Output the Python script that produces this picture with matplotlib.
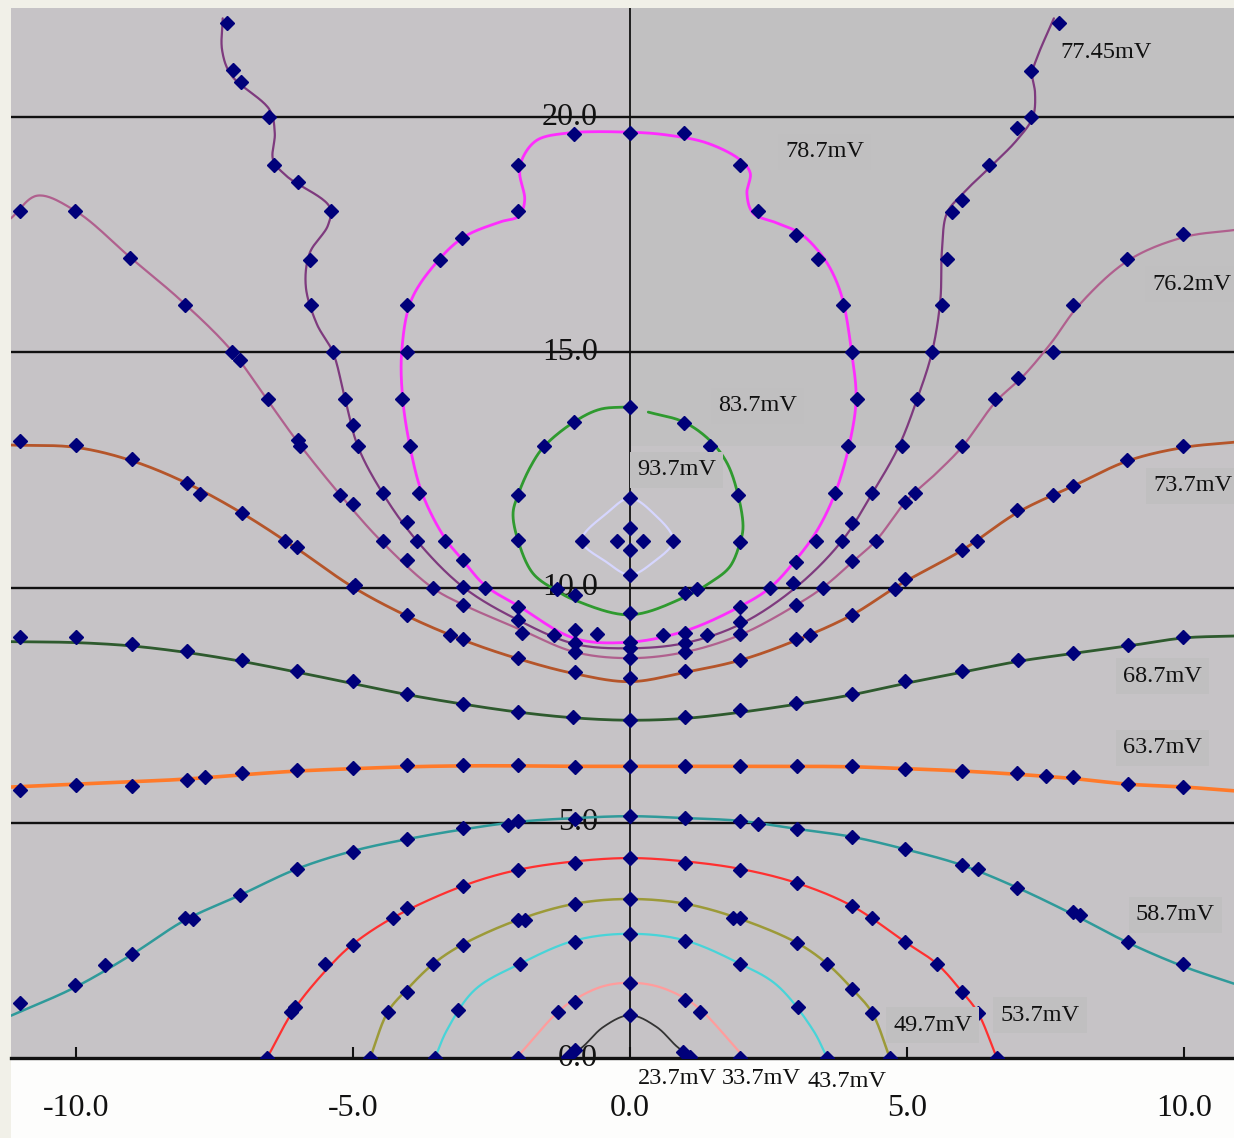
import numpy as np
import matplotlib
matplotlib.use("Agg")
import matplotlib.pyplot as plt
from matplotlib.patches import Rectangle

plt.rcParams["font.family"] = ["Liberation Serif", "DejaVu Serif"]

# ---------------- data (x, y) ----------------
x_ticks = [-10.0, -5.0, 0.0, 5.0, 10.0]
x_tick_labels = ["-10.0", "-5.0", "0.0", "5.0", "10.0"]
y_grid = [0.0, 5.0, 10.0, 15.0, 20.0]
y_grid_labels = ["0.0", "5.0", "10.0", "15.0", "20.0"]

levels = ["23.7mV", "33.7mV", "43.7mV", "49.7mV", "53.7mV", "58.7mV", "63.7mV",
          "68.7mV", "73.7mV", "76.2mV", "77.45mV", "78.7mV", "83.7mV", "93.7mV"]

line_237 = [(-1.12, 0.0), (-0.85, 0.24), (-0.48, 0.66), (0.0, 0.91), (0.48, 0.66), (0.85, 0.24), (1.12, 0.0)]
pts_237 = [(0.0, 0.91), (0.95, 0.12), (1.08, 0.03), (-1.0, 0.18), (-1.12, 0.03)]

line_337 = [(-2.05, 0.0), (-1.3, 0.98), (-0.99, 1.25), (-0.5, 1.52), (0.0, 1.6), (0.5, 1.52), (0.99, 1.27),
            (1.3, 1.0), (2.07, 0.0)]
pts_337 = [(0.0, 1.6), (0.99, 1.23), (1.26, 0.98), (1.99, 0.0), (-0.99, 1.19), (-1.3, 0.98), (-2.02, 0.0)]

line_437 = [(-3.52, 0.0), (-3.3, 0.6), (-2.8, 1.45), (-1.99, 2.0), (-0.99, 2.5), (0.0, 2.64), (0.99, 2.5),
            (1.99, 2.0), (2.65, 1.55), (3.3, 0.6), (3.56, 0.0)]
pts_437 = [(0.0, 2.64), (0.99, 2.49), (1.99, 2.0), (3.03, 1.08), (3.56, 0.0), (-0.99, 2.47), (-1.99, 2.0),
           (-3.1, 1.02), (-3.52, 0.0)]

line_497 = [(-4.69, 0.0), (-4.37, 0.98), (-4.03, 1.45), (-3.55, 2.0), (-3.01, 2.42), (-1.99, 2.95), (-0.99, 3.28),
            (0.0, 3.38), (0.99, 3.28), (1.93, 2.98), (3.01, 2.45), (3.56, 2.0), (4.01, 1.47), (4.37, 0.96), (4.69, 0.0)]
pts_497 = [(0.0, 3.38), (0.99, 3.27), (1.86, 2.98), (1.99, 2.98), (3.01, 2.45), (3.56, 2.0), (4.01, 1.47),
           (4.37, 0.96), (4.69, 0.0), (-0.99, 3.27), (-1.9, 2.93), (-2.02, 2.93), (-3.01, 2.4), (-3.55, 2.0),
           (-4.03, 1.41), (-4.37, 0.98), (-4.69, 0.0)]

line_537 = [(-6.55, 0.0), (-6.05, 1.05), (-5.38, 2.0), (-5.0, 2.42), (-4.28, 2.98), (-3.01, 3.66), (-2.02, 4.0),
            (-0.99, 4.18), (0.0, 4.25), (0.99, 4.18), (1.99, 4.02), (3.01, 3.72), (4.01, 3.23), (4.96, 2.47),
            (5.54, 2.0), (5.99, 1.41), (6.28, 0.96), (6.62, 0.0)]
pts_537 = [(0.0, 4.25), (0.99, 4.15), (1.99, 4.0), (3.01, 3.72), (4.01, 3.23), (4.37, 2.98), (4.96, 2.47),
           (5.54, 2.0), (5.99, 1.41), (6.28, 0.96), (6.62, 0.0), (-0.99, 4.15), (-2.02, 4.0), (-3.01, 3.66),
           (-4.03, 3.19), (-4.28, 2.98), (-5.0, 2.4), (-5.5, 2.0), (-6.05, 1.08), (-6.12, 0.98), (-6.55, 0.0)]

line_587 = [(-11.17, 0.9), (-10.02, 1.5), (-8.99, 2.2), (-8.03, 2.93), (-7.04, 3.46), (-6.01, 4.02), (-5.0, 4.4),
            (-4.03, 4.65), (-3.01, 4.86), (-2.02, 5.02), (-0.99, 5.1), (0.0, 5.14), (0.99, 5.1), (1.99, 5.04),
            (3.01, 4.87), (4.01, 4.7), (4.96, 4.44), (5.99, 4.1), (6.99, 3.62), (8.0, 3.05), (8.99, 2.45),
            (9.98, 1.95), (10.9, 1.58)]
pts_587 = [(-11.01, 1.17), (-10.02, 1.55), (-9.48, 1.98), (-8.99, 2.21), (-8.03, 2.98), (-7.88, 2.95),
           (-7.04, 3.46), (-6.01, 4.02), (-5.0, 4.38), (-4.03, 4.65), (-3.01, 4.89), (-2.2, 4.95), (-2.02, 5.04),
           (-0.99, 5.08), (0.0, 5.14), (0.99, 5.1), (1.99, 5.04), (2.31, 4.97), (3.01, 4.87), (4.01, 4.7),
           (4.96, 4.44), (5.99, 4.1), (6.28, 4.02), (6.99, 3.61), (8.0, 3.1), (8.12, 3.04), (8.99, 2.47), (9.98, 2.0)]

line_637 = [(-11.17, 5.76), (-10.0, 5.82), (-9.0, 5.87), (-8.0, 5.93), (-7.0, 6.02), (-6.0, 6.1), (-5.0, 6.15),
            (-4.0, 6.19), (-3.0, 6.21), (-2.0, 6.21), (-1.0, 6.2), (0.0, 6.2), (1.0, 6.2), (2.0, 6.2), (3.0, 6.2),
            (4.0, 6.19), (5.0, 6.15), (6.0, 6.1), (7.0, 6.03), (8.0, 5.94), (9.0, 5.82), (10.0, 5.76), (10.9, 5.68)]
pts_637 = [(-11.01, 5.7), (-10.0, 5.8), (-8.99, 5.78), (-8.0, 5.91), (-7.67, 5.97), (-7.0, 6.06), (-6.01, 6.12),
           (-5.0, 6.16), (-4.03, 6.22), (-3.01, 6.22), (-2.02, 6.22), (-0.99, 6.19), (0.0, 6.2), (0.99, 6.2),
           (1.99, 6.2), (3.01, 6.2), (4.01, 6.2), (4.96, 6.15), (5.99, 6.1), (6.99, 6.05), (7.5, 6.0),
           (8.0, 5.97), (8.99, 5.82), (9.98, 5.76)]

line_687 = [(-11.17, 8.85), (-10.0, 8.83), (-9.0, 8.76), (-8.0, 8.62), (-7.0, 8.43), (-6.0, 8.2), (-5.0, 7.96),
            (-4.0, 7.72), (-3.0, 7.52), (-2.0, 7.35), (-1.0, 7.23), (0.0, 7.18), (1.0, 7.22), (2.0, 7.35),
            (3.0, 7.52), (4.0, 7.72), (5.0, 7.97), (6.0, 8.2), (7.0, 8.43), (8.0, 8.6), (9.0, 8.76), (10.0, 8.93),
            (10.9, 8.97)]
pts_687 = [(-11.01, 8.95), (-10.0, 8.95), (-8.99, 8.8), (-8.0, 8.65), (-7.0, 8.46), (-6.01, 8.23), (-5.0, 8.01),
           (-4.03, 7.74), (-3.01, 7.52), (-2.02, 7.35), (-1.03, 7.25), (0.0, 7.18), (0.99, 7.25), (1.99, 7.4),
           (3.0, 7.55), (4.01, 7.74), (4.96, 8.01), (5.99, 8.23), (7.0, 8.46), (8.0, 8.6), (8.99, 8.78), (9.98, 8.95)]

line_737 = [(-11.17, 13.03), (-10.0, 12.98), (-9.0, 12.7), (-8.0, 12.22), (-7.0, 11.58), (-6.0, 10.82),
            (-5.0, 10.01), (-4.03, 9.4), (-3.0, 8.88), (-2.0, 8.48), (-1.0, 8.17), (0.0, 8.0), (1.0, 8.2),
            (2.0, 8.46), (3.0, 8.88), (4.01, 9.42), (4.85, 10.05), (6.0, 10.8), (7.0, 11.6), (8.0, 12.16),
            (9.0, 12.7), (10.0, 12.98), (10.9, 13.09)]
pts_737 = [(-11.01, 13.11), (-10.0, 13.03), (-8.99, 12.73), (-8.0, 12.22), (-7.76, 11.99), (-7.0, 11.58),
           (-6.23, 11.0), (-6.01, 10.87), (-5.0, 10.01), (-4.96, 10.06), (-4.03, 9.42), (-3.25, 9.0), (-3.01, 8.9),
           (-2.02, 8.5), (-0.99, 8.2), (0.0, 8.07), (0.99, 8.23), (1.99, 8.46), (3.0, 8.9), (3.25, 9.0),
           (4.01, 9.42), (4.78, 9.97), (4.96, 10.18), (5.99, 10.8), (6.26, 10.99), (6.99, 11.65), (7.64, 11.97),
           (8.0, 12.16), (8.97, 12.71), (9.98, 13.01)]

line_762 = [(-11.17, 17.85), (-10.7, 18.33), (-10.0, 18.0), (-9.0, 17.0), (-8.1, 16.1), (-7.2, 15.05),
            (-6.55, 14.0), (-6.0, 13.1), (-5.25, 12.0), (-4.5, 11.0), (-3.57, 10.0), (-3.0, 9.63), (-2.0, 9.12),
            (-1.0, 8.63), (0.0, 8.5), (1.0, 8.63), (2.0, 9.0), (3.0, 9.63), (3.48, 10.0), (4.01, 10.54),
            (4.44, 11.0), (5.0, 11.86), (5.5, 12.4), (6.0, 13.0), (6.6, 13.95), (7.1, 14.5), (7.6, 15.2),
            (8.1, 16.0), (9.0, 16.96), (10.0, 17.45), (10.9, 17.6)]
pts_762 = [(-11.01, 18.0), (-10.02, 18.0), (-9.03, 17.0), (-8.03, 16.0), (-7.18, 15.0), (-7.04, 14.84),
           (-6.53, 14.0), (-5.99, 13.13), (-5.96, 13.0), (-5.23, 11.97), (-5.0, 11.77), (-4.46, 11.0),
           (-4.03, 10.58), (-3.56, 10.0), (-3.01, 9.63), (-1.95, 9.03), (-0.99, 8.63), (0.0, 8.5), (0.99, 8.63),
           (1.99, 9.01), (3.0, 9.63), (3.48, 10.0), (4.01, 10.56), (4.44, 11.0), (4.96, 11.82), (5.14, 12.0),
           (6.0, 13.0), (6.59, 14.0), (7.0, 14.45), (7.64, 15.0), (8.0, 16.0), (8.97, 16.98), (9.98, 17.51)]

line_7745 = [(-7.35, 22.1), (-7.36, 21.42), (-7.2, 20.9), (-6.5, 20.15), (-6.41, 19.66), (-6.44, 19.09),
             (-6.2, 18.75), (-5.42, 18.09), (-5.45, 17.7), (-5.78, 17.11), (-5.85, 16.4), (-5.65, 15.6),
             (-5.36, 15.0), (-5.14, 14.0), (-4.91, 13.0), (-4.46, 12.0), (-3.85, 11.0), (-3.01, 10.01),
             (-2.02, 9.31), (-0.99, 8.8), (0.0, 8.71), (0.99, 8.82), (1.99, 9.22), (3.0, 10.01), (3.83, 11.0),
             (4.37, 12.0), (4.85, 13.0), (5.18, 14.0), (5.45, 15.0), (5.6, 16.1), (5.63, 17.17), (5.72, 17.96),
             (6.01, 18.38), (6.5, 18.94), (6.98, 19.51), (7.27, 20.0), (7.31, 20.51), (7.26, 20.93), (7.35, 21.28),
             (7.65, 22.1)]
pts_7745 = [(-7.27, 22.0), (-7.17, 21.0), (-7.02, 20.74), (-6.52, 20.0), (-6.43, 18.98), (-5.99, 18.62),
            (-5.4, 18.0), (-5.78, 16.96), (-5.76, 16.0), (-5.36, 15.0), (-5.14, 14.0), (-5.0, 13.45), (-4.91, 13.0),
            (-4.46, 12.0), (-4.03, 11.4), (-3.85, 11.0), (-3.01, 10.01), (-2.02, 9.31), (-0.99, 8.82), (0.0, 8.71),
            (0.99, 8.82), (1.39, 9.0), (1.99, 9.27), (2.94, 10.1), (3.83, 11.0), (4.01, 11.37), (4.37, 12.0),
            (4.9, 13.0), (5.18, 14.0), (5.45, 15.0), (5.63, 16.0), (5.72, 16.98), (5.81, 17.98), (5.99, 18.24),
            (6.48, 18.98), (6.99, 19.77), (7.24, 20.0), (7.24, 20.98), (7.74, 22.0)]

line_787 = [(0.0, 8.84), (-1.0, 8.92), (-2.0, 9.6), (-2.62, 10.05), (-3.0, 10.56), (-3.34, 11.05), (-3.75, 12.0),
            (-3.97, 13.0), (-4.1, 14.0), (-4.12, 15.0), (-3.95, 16.1), (-3.5, 16.9), (-3.0, 17.45), (-2.35, 17.77),
            (-2.0, 17.9), (-1.9, 18.24), (-1.99, 18.81), (-1.93, 19.15), (-1.68, 19.51), (-1.14, 19.66),
            (0.0, 19.68), (0.67, 19.62), (1.39, 19.45), (1.99, 19.09), (2.17, 18.81), (2.11, 18.38), (2.22, 17.96),
            (2.65, 17.75), (3.07, 17.53), (3.43, 17.11), (3.66, 16.68), (3.84, 16.11), (4.0, 15.0), (4.08, 14.0),
            (3.95, 13.0), (3.7, 12.0), (3.37, 11.2), (3.0, 10.6), (2.53, 10.0), (1.99, 9.6), (1.0, 9.08)]
pts_787 = [(0.0, 8.84), (0.6, 9.0), (0.99, 9.03), (1.99, 9.59), (2.53, 10.0), (3.0, 10.54), (3.36, 11.0),
           (3.7, 12.0), (3.93, 13.0), (4.1, 14.0), (4.01, 15.0), (3.84, 16.0), (3.39, 16.98), (3.0, 17.49),
           (2.31, 18.0), (1.99, 18.98), (0.97, 19.66), (0.0, 19.66), (-1.01, 19.64), (-2.02, 18.98), (-2.02, 18.0),
           (-3.03, 17.43), (-3.43, 16.96), (-4.03, 16.0), (-4.03, 15.0), (-4.12, 14.0), (-3.97, 13.0),
           (-3.81, 12.0), (-3.34, 11.0), (-3.01, 10.58), (-2.62, 10.0), (-2.02, 9.59), (-1.37, 9.0), (-0.99, 9.1),
           (-0.6, 9.01)]

line_837 = [(0.33, 13.73), (0.97, 13.52), (1.44, 13.13), (1.75, 12.65), (1.95, 11.97), (2.04, 11.29), (1.99, 10.97),
            (1.8, 10.44), (1.44, 10.1), (0.99, 9.8), (0.0, 9.42), (-0.99, 9.73), (-1.32, 9.93), (-1.75, 10.3),
            (-2.02, 11.0), (-2.11, 11.58), (-2.02, 11.97), (-1.8, 12.56), (-1.55, 13.0), (-1.01, 13.52),
            (-0.54, 13.79), (0.0, 13.84)]
pts_837 = [(0.0, 13.84), (0.97, 13.5), (1.44, 13.0), (1.95, 11.97), (1.99, 10.97), (1.21, 9.97), (0.99, 9.88),
           (0.0, 9.46), (-0.99, 9.84), (-1.32, 9.97), (-2.02, 11.01), (-2.02, 11.97), (-1.55, 13.0), (-1.01, 13.52)]

line_937 = [(0.0, 11.9), (0.42, 11.58), (0.78, 11.0), (0.42, 10.54), (0.0, 10.27), (-0.42, 10.54), (-0.87, 11.0),
            (-0.42, 11.58)]
pts_937 = [(0.0, 11.9), (0.78, 11.0), (0.0, 10.27), (-0.87, 11.0), (0.0, 11.26), (-0.24, 11.0), (0.24, 11.0),
           (0.0, 10.8)]

# label anchor (left x, centre y) for each level
label_x = [0.14, 1.66, 3.21, 4.75, 6.68, 9.13, 8.9, 8.9, 9.44, 9.42, 7.76, 2.8, 1.59, 0.13]
label_y = [-0.43, -0.43, -0.51, 0.70, 0.91, 3.04, 6.59, 8.12, 12.16, 16.45, 21.38, 19.26, 13.86, 12.5]

# ---------------- helpers ----------------
SX = 55.4 / 47.05  # pixel aspect of the axes (x unit vs y unit)


def catmull_rom(pts, closed=False, n=24):
    P = np.asarray(pts, dtype=float)
    if closed:
        Q = np.vstack([P[-1], P, P[0], P[1]])
        segs = range(1, len(P) + 1)
    else:
        Q = np.vstack([2 * P[0] - P[1], P, 2 * P[-1] - P[-2]])
        segs = range(1, len(P))
    out = []
    for i in segs:
        p0, p1, p2, p3 = Q[i - 1], Q[i], Q[i + 1], Q[i + 2]

        def d(a, b):
            return max(np.hypot((b[0] - a[0]) * SX, b[1] - a[1]) ** 0.5, 1e-6)
        t0 = 0.0
        t1 = t0 + d(p0, p1)
        t2 = t1 + d(p1, p2)
        t3 = t2 + d(p2, p3)
        t = np.linspace(t1, t2, n)[:, None]
        a1 = (t1 - t) / (t1 - t0) * p0 + (t - t0) / (t1 - t0) * p1
        a2 = (t2 - t) / (t2 - t1) * p1 + (t - t1) / (t2 - t1) * p2
        a3 = (t3 - t) / (t3 - t2) * p2 + (t - t2) / (t3 - t2) * p3
        b1 = (t2 - t) / (t2 - t0) * a1 + (t - t0) / (t2 - t0) * a2
        b2 = (t3 - t) / (t3 - t1) * a2 + (t - t1) / (t3 - t1) * a3
        c = (t2 - t) / (t2 - t1) * b1 + (t - t1) / (t2 - t1) * b2
        out.append(c if not out else c[1:])
    return np.vstack(out)


# ---------------- figure ----------------
W, H = 1234, 1138
fig = plt.figure(figsize=(W / 100, H / 100), dpi=100, facecolor="#f1f0e8")
fig.patches.append(Rectangle((11 / W, 0), 1 - 11 / W, 1 - 1058 / H, transform=fig.transFigure,
                             facecolor="#fdfdfc", edgecolor="none", zorder=-5))
ax = fig.add_axes([11 / W, 1 - 1058 / H, 1 - 11 / W, (1058 - 8) / H])
ax.set_xlim(-11.17, 10.9)
ax.set_ylim(0, 22.32)
ax.set_facecolor("#c6c3c6")
ax.add_patch(Rectangle((0, 13.0), 11.0, 10.0, facecolor="#c1c0c1", edgecolor="none", zorder=0))

for s in ["top", "left", "right"]:
    ax.spines[s].set_visible(False)
ax.spines["bottom"].set_linewidth(2.4)
ax.spines["bottom"].set_color("#111111")

for yv in y_grid[1:]:
    ax.axhline(yv, color="#111111", lw=1.7, zorder=1)
ax.axvline(0, color="#111111", lw=1.3, zorder=1)

ax.set_xticks(x_ticks)
ax.set_xticklabels(x_tick_labels)
ax.tick_params(axis="x", direction="in", length=8, width=1.5, pad=26, labelsize=23, colors="#111111")
ax.set_yticks([])

for yv, lab in zip(y_grid, y_grid_labels):
    ax.text(-0.58, yv, lab, ha="right", va="center", fontsize=23, color="#111111", zorder=2)

lines = [line_237, line_337, line_437, line_497, line_537, line_587, line_637, line_687, line_737,
         line_762, line_7745, line_787, line_837, line_937]
points = [pts_237, pts_337, pts_437, pts_497, pts_537, pts_587, pts_637, pts_687, pts_737,
          pts_762, pts_7745, pts_787, pts_837, pts_937]
colors = ["#333333", "#ff9c9c", "#48d4d8", "#9c9a38", "#ff3030", "#2f9a9a", "#ff7a2a",
          "#2e5a2e", "#b5552a", "#b0608e", "#7e3a7e", "#ff2cff", "#2f9a2f", "#d6d6ff"]
widths = [1.3, 1.6, 1.6, 1.8, 1.6, 1.8, 2.6, 2.0, 2.0, 1.6, 1.6, 2.0, 2.0, 1.6]
closed = [False] * 11 + [True, False, True]

for ln, pts, col, lw, cl in zip(lines, points, colors, widths, closed):
    xy = catmull_rom(ln, closed=cl)
    if cl:
        xy = np.vstack([xy, xy[:1]])
    ax.plot(xy[:, 0], xy[:, 1], color=col, lw=lw, zorder=3, solid_capstyle="round")
    p = np.asarray(pts)
    ax.plot(p[:, 0], p[:, 1], linestyle="none", marker="D", ms=7.2, color="#00007a",
            markeredgecolor="#00007a", zorder=4)

boxed = [False, False, False, True, True, True, True, True, True, True, False, True, True, True]
for lab, lx, ly, bx in zip(levels, label_x, label_y, boxed):
    kw = dict(ha="left", va="center", fontsize=17.5, color="#111111", zorder=5)
    if ly < 0:
        ax.text(lx, ly, lab, clip_on=False, **kw)
    else:
        if bx:
            kw["bbox"] = dict(boxstyle="square,pad=0.3", facecolor="#c0bfc0", edgecolor="none")
        ax.text(lx, ly, lab, clip_on=True, **kw)

fig.savefig("out.png", dpi=100, facecolor=fig.get_facecolor())
